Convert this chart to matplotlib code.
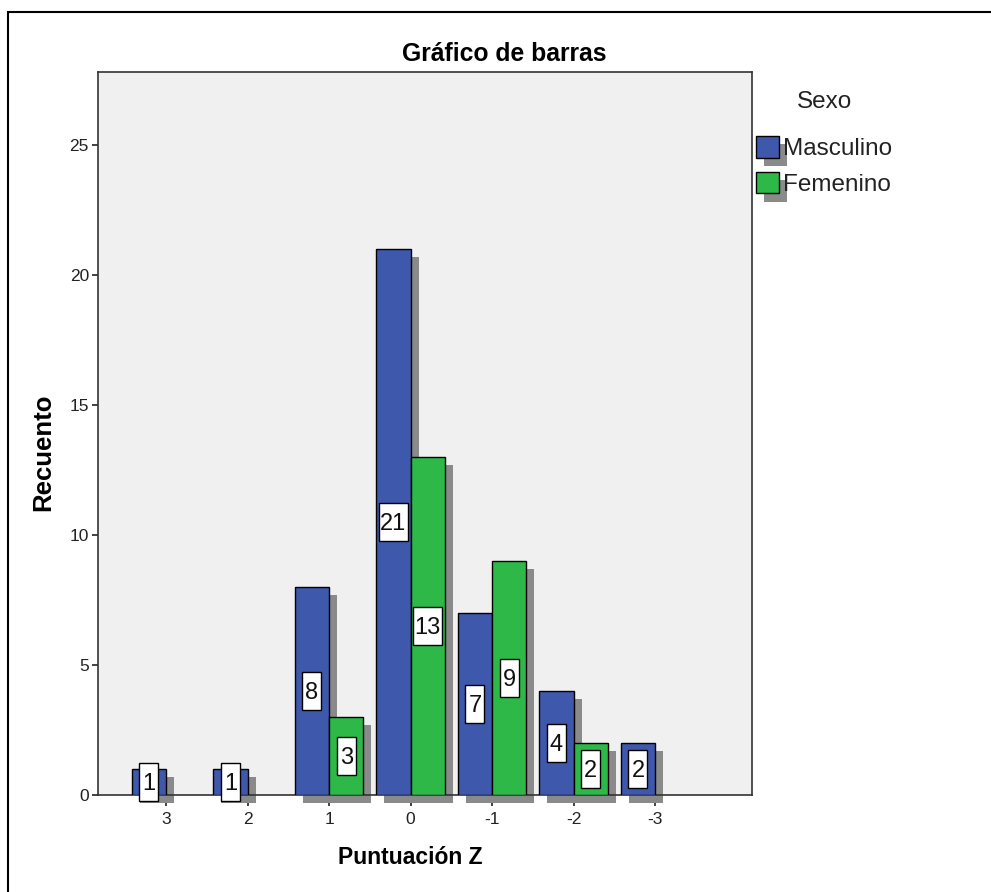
import matplotlib
matplotlib.use('Agg')
import matplotlib.pyplot as plt
import matplotlib.transforms as mtransforms
from matplotlib.patches import Rectangle
from matplotlib.legend_handler import HandlerBase

plt.rcParams['font.family'] = ['Liberation Sans', 'DejaVu Sans']

# Recuento por puntuación Z y sexo
categorias = ['3', '2', '1', '0', '-1', '-2', '-3']
masculino = [1, 1, 8, 21, 7, 4, 2]
femenino = [0, 0, 3, 13, 9, 2, 0]
series = [('Masculino', masculino), ('Femenino', femenino)]
colores = {'Masculino': '#3E58AC', 'Femenino': '#2EB848'}

SOMBRA = '#8a8a8a'
ANCHO = 0.42
ETIQ_FONT = ['Liberation Sans Narrow', 'Liberation Sans', 'DejaVu Sans']
ETIQ_SIZE = 17


class HandlerSombra(HandlerBase):
    # cuadro de leyenda con sombra desplazada abajo a la derecha
    def create_artists(self, legend, orig_handle, xdescent, ydescent,
                       width, height, fontsize, trans):
        sombra = Rectangle((-xdescent + 6, -ydescent - 6), width, height,
                           facecolor=SOMBRA, edgecolor='none', transform=trans)
        caja = Rectangle((-xdescent, -ydescent), width, height,
                         facecolor=orig_handle.get_facecolor(),
                         edgecolor='black', linewidth=1.0, transform=trans)
        return [sombra, caja]


fig = plt.figure(figsize=(9.91, 8.92), dpi=100)
ax = fig.add_axes([0.0989, 0.1087, 0.660, 0.8105])
ax.set_facecolor('#F0F0F0')

x = list(range(len(categorias)))
sombra_tr = mtransforms.offset_copy(ax.transData, fig=fig, x=8, y=-8, units='dots')

handles = []
for k, (nombre, valores) in enumerate(series):
    xs = [i - ANCHO + k * ANCHO for i, v in zip(x, valores) if v > 0]
    hs = [v for v in valores if v > 0]
    ax.bar(xs, hs, width=ANCHO, align='edge', color=SOMBRA,
           transform=sombra_tr, clip_on=False, zorder=2)
    barras = ax.bar(xs, hs, width=ANCHO, align='edge', color=colores[nombre],
                    edgecolor='black', linewidth=1.0, zorder=3, label=nombre)
    handles.append(barras.patches[0])
    # etiqueta con el valor, centrada a media altura
    for xi, h in zip(xs, hs):
        xc = xi + ANCHO / 2
        texto = str(h)
        w = 0.09 + 0.10 * len(texto)
        caja_tr = fig.dpi_scale_trans + mtransforms.ScaledTranslation(xc, h / 2, ax.transData)
        ax.add_patch(Rectangle((-w / 2, -0.19), w, 0.38, transform=caja_tr,
                               facecolor='white', edgecolor='black', linewidth=1.0,
                               zorder=4, clip_on=False))
        ax.annotate(texto, (xc, h / 2), xytext=(0, -0.716 * ETIQ_SIZE / 2),
                    textcoords='offset points', ha='center', va='baseline',
                    fontsize=ETIQ_SIZE, family=ETIQ_FONT, color='#111111',
                    zorder=5, annotation_clip=False)

ax.set_xlim(-0.835, 7.19)
ax.set_ylim(0, 27.8)
ax.set_xticks(x, categorias)
ax.set_yticks([0, 5, 10, 15, 20, 25])
ax.tick_params(axis='x', length=8, width=1.2, pad=4, labelsize=12.5, colors='#222222')
ax.tick_params(axis='y', length=4.5, width=1.2, pad=2, labelsize=12.5, colors='#222222')
for lado in ax.spines.values():
    lado.set_color('#333333')
    lado.set_linewidth(1.2)

ax.set_xlabel('Puntuación Z', fontsize=16.5, fontweight='bold', va='top')
ax.xaxis.set_label_coords(0.477, -0.07)
ax.set_ylabel('Recuento', fontsize=18.5, fontweight='bold')
ax.yaxis.set_label_coords(-0.066, 0.474)

fig.text(0.509, 1 - 61 / 892, 'Gráfico de barras', fontsize=17.8,
         fontweight='bold', ha='center', va='baseline')

# leyenda: título aparte y cuadros con sombra
fig.text(824.5 / 991, 1 - 102 / 892, 'Sexo', fontsize=17.5, color='#222222',
         ha='center', va='center')
ax.legend(handles=handles, labels=[n for n, _ in series],
          handler_map={h: HandlerSombra() for h in handles},
          loc='upper left', bbox_to_anchor=(756 / 991, 1 - 136 / 892),
          bbox_transform=fig.transFigure, frameon=False, borderpad=0,
          borderaxespad=0, fontsize=17.5,
          handlelength=0.95, handleheight=1.0, handletextpad=0.15,
          labelspacing=0.47, labelcolor='#222222')

# marco exterior
fig.add_artist(Rectangle((8 / 991, -0.1), 1.2, 1 - 11.5 / 892 + 0.1,
                         transform=fig.transFigure, fill=False,
                         edgecolor='black', linewidth=1.5))

fig.savefig('out.png', dpi=100)
